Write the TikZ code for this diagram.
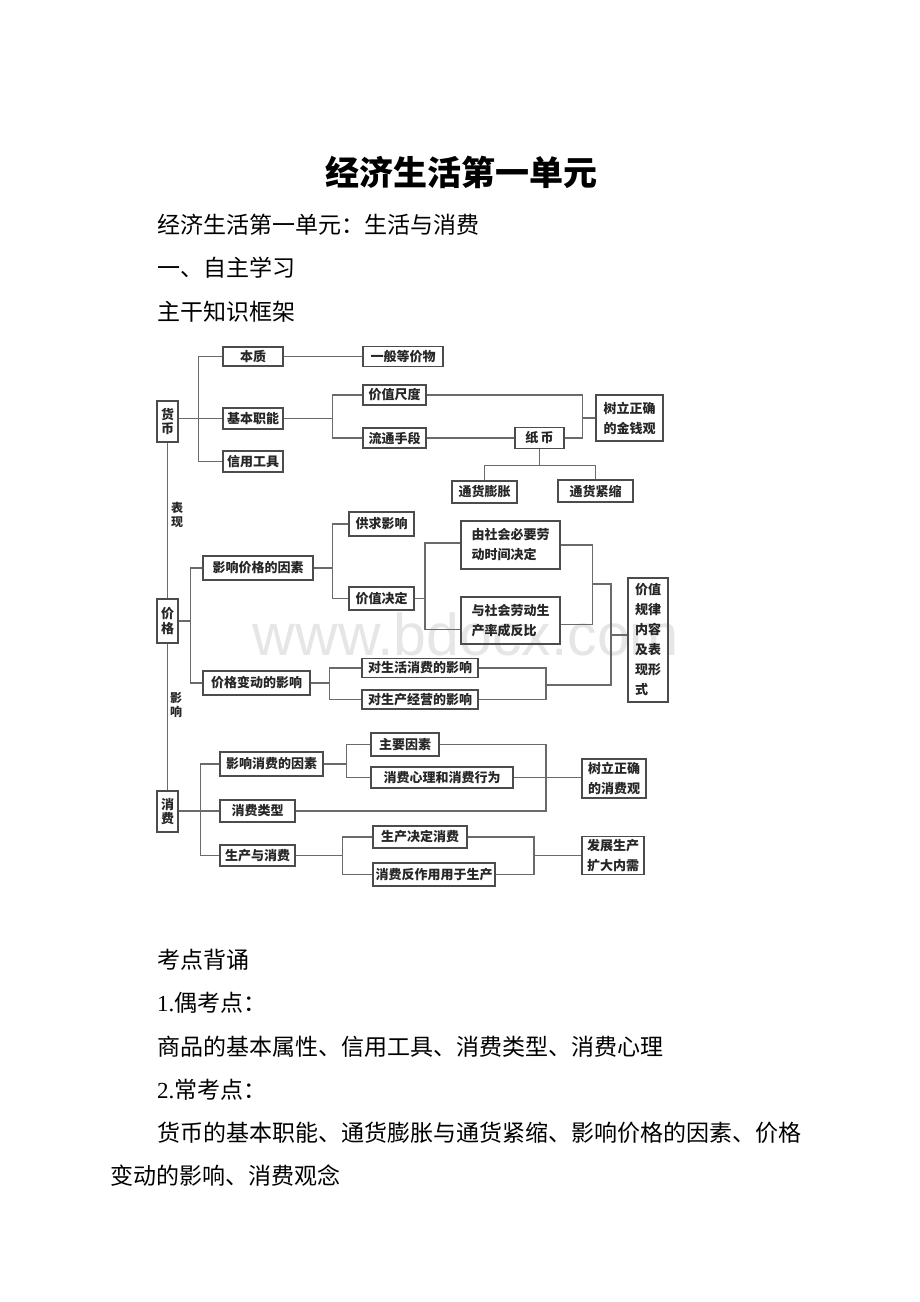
\documentclass[tikz,border=0pt]{standalone}
\usepackage{fontspec}
\setmainfont{Liberation Serif}
\newfontfamily\cjk{Noto Sans CJK SC}
\newfontfamily\wmfont{Liberation Sans}
\usetikzlibrary{calc}
\definecolor{boxgray}{HTML}{4C4C4C}
\definecolor{linegray}{HTML}{6A6A6A}
\definecolor{wmgray}{HTML}{E6E6E6}

\begin{document}
\begin{tikzpicture}[x=1pt, y=-1pt,
  box/.style={draw=boxgray, line width=1.4pt, inner sep=0pt, align=center,
    text=black!85, font=\cjk\bfseries\fontsize{13}{20}\selectfont},
  vbox/.style={box, font=\cjk\bfseries\fontsize{13}{14.5}\selectfont},
  sz/.style 2 args={minimum width=#1, minimum height=#2},
  link/.style={draw=linegray, line width=1.2pt},
  para/.style={anchor=west, inner sep=0pt, font=\cjk\fontsize{23}{28}\selectfont}]
  \useasboundingbox (0,0) rectangle (920,1302);

  % watermark
  \node[text=wmgray, font=\wmfont\fontsize{59}{59}\selectfont, inner sep=0pt] (wm) at (466,634) {www.bdocx.com};

  % page text
  \node[inner sep=0pt, font=\cjk\bfseries\fontsize{34}{40}\selectfont] (title) at (461,172) {经济生活第一单元};
  \node[para] (t1) at (157,225) {经济生活第一单元：生活与消费};
  \node[para] (t2) at (157,268) {一、自主学习};
  \node[para] (t3) at (157,312) {主干知识框架};
  \node[para] (t4) at (157,960) {考点背诵};
  \node[para] (t5) at (157,1003) {{\rmfamily 1.}偶考点：};
  \node[para] (t6) at (157,1047) {商品的基本属性、信用工具、消费类型、消费心理};
  \node[para] (t7) at (157,1090) {{\rmfamily 2.}常考点：};
  \node[para] (t8) at (157,1133) {货币的基本职能、通货膨胀与通货紧缩、影响价格的因素、价格};
  \node[para] (t9) at (110,1176) {变动的影响、消费观念};

  % money
  \node[vbox, sz={21}{41}] (hb) at (167.5,421.5) {货\\币};
  \node[box, sz={60}{19}] (bz) at (253,356.5) {本质};
  \node[box, sz={80}{20}] (ybdj) at (403,356.5) {一般等价物};
  \node[box, sz={60}{21}] (jbzn) at (253,418.5) {基本职能};
  \node[box, sz={60}{21}] (xygj) at (253,461.5) {信用工具};
  \node[box, sz={63}{20}] (jzcd) at (394.5,395) {价值尺度};
  \node[box, sz={63}{20}] (ltsd) at (394.5,438) {流通手段};
  \node[box, sz={49}{21}] (zb) at (539.5,438) {纸\,币};
  \node[box, sz={67}{46}] (jqg) at (629.5,418) {树立正确\\的金钱观};
  \node[box, sz={65}{22}] (pz) at (484.5,492) {通货膨胀};
  \node[box, sz={75}{22}] (js) at (595.5,491) {通货紧缩};

  \draw[link] (hb.east |- jbzn) -- (jbzn.west);
  \draw[link] (bz.west) -- ++(-24,0) coordinate (s1) |- (xygj.west);
  \draw[link] (bz.east) -- (ybdj.west);
  \draw[link] (jzcd.west) -- ++(-30,0) coordinate (s2) |- (ltsd.west);
  \draw[link] (jbzn.east) -- (jbzn.east -| s2);
  \draw[link] (ltsd.east) -- (zb.west);
  \draw[link] (jqg.west) -- ++(-13,0) coordinate (s3);
  \draw[link] (jzcd.east) -| (s3) |- (zb.east);
  \draw[link] (zb.south) -- ++(0,16) coordinate (s4);
  \draw[link] (pz.north) |- (s4) -| (js.north);

  % price
  \node[vbox, sz={21}{44}] (jg) at (167.5,621) {价\\格};
  \node[vbox, draw=none, font=\cjk\bfseries\fontsize{12}{14}\selectfont] (bx) at (177,515) {表\\现};
  \node[vbox, draw=none, font=\cjk\bfseries\fontsize{12}{14}\selectfont] (yx) at (176,705) {影\\响};
  \node[box, sz={110}{24}] (yxjg) at (258,568) {影响价格的因素};
  \node[box, sz={107}{24}] (jgbd) at (256.5,683) {价格变动的影响};
  \node[box, sz={65}{24}] (gqyx) at (381.5,524) {供求影响};
  \node[box, sz={65}{23}] (jzjd) at (381.5,598.5) {价值决定};
  \node[box, sz={99}{48}, align=left] (sh1) at (510.5,545) {由社会必要劳\\动时间决定};
  \node[box, sz={99}{47}, align=left] (sh2) at (510.5,620.5) {与社会劳动生\\产率成反比};
  \node[box, sz={40}{124}, align=left] (jzgl) at (648,640) {价值\\规律\\内容\\及表\\现形\\式};
  \node[box, sz={116}{19}] (dsh) at (420,668) {对生活消费的影响};
  \node[box, sz={116}{19}] (dsc) at (420,699.5) {对生产经营的影响};

  \draw[link] (hb.south) -- (jg.north);
  \draw[link] (yxjg.west) -- ++(-12,0) coordinate (s5) |- (jgbd.west);
  \draw[link] (jg.east) -- (jg.east -| s5);
  \draw[link] (gqyx.west) -- ++(-16,0) coordinate (s6) |- (jzjd.west);
  \draw[link] (yxjg.east) -- (yxjg.east -| s6);
  \coordinate (s7) at (425,543);
  \draw[link] (sh1.west |- s7) -- (s7) |- ($(sh2.west)+(0,9)$);
  \draw[link] (jzjd.east) -- (jzjd.east -| s7);
  \draw[link] (sh1.east) -- ++(32,0) coordinate (s8) |- ($(sh2.east)+(0,4)$);
  \coordinate (j1) at (611,584);
  \coordinate (j2) at (546,685);
  \coordinate (j3) at (611,635);
  \draw[link] (dsh.east) -| (j2) |- (dsc.east);
  \draw[link] (j2) -| (j1) -- (j1 -| s8);
  \draw[link] (j3) -- (j3 -| jzgl.west);
  \draw[link] (dsh.west) -- ++(-32,0) coordinate (s9) |- (dsc.west);
  \draw[link] (jgbd.east) -- (jgbd.east -| s9);

  % consumption
  \node[vbox, sz={21}{41}] (xf) at (167.5,811.5) {消\\费};
  \node[box, sz={103}{24}] (yxxf) at (271.5,764) {影响消费的因素};
  \node[box, sz={75}{22}] (xflx) at (257.5,811) {消费类型};
  \node[box, sz={75}{21}] (scyx) at (257.5,855.5) {生产与消费};
  \node[box, sz={68}{23}] (zyys) at (405,744.5) {主要因素};
  \node[box, sz={142}{21}] (xfxl) at (442,777.5) {消费心理和消费行为};
  \node[box, sz={64}{39}] (xfg) at (614,778.5) {树立正确\\的消费观};
  \node[box, sz={94}{22}] (scjd) at (420,837) {生产决定消费};
  \node[box, sz={122}{23}] (xffz) at (434,874.5) {消费反作用用于生产};
  \node[box, sz={62}{38}] (fzsc) at (613,855.5) {发展生产\\扩大内需};

  \draw[link] (jg.south) -- (xf.north);
  \draw[link] (yxxf.west) -- ++(-19,0) coordinate (s10) |- (scyx.west);
  \draw[link] (xf.east |- xflx) -- (xflx.west);
  \draw[link] (zyys.west) -- ++(-24,0) coordinate (s11) |- (xfxl.west);
  \draw[link] (yxxf.east) -- (yxxf.east -| s11);
  \coordinate (j4) at (546,811);
  \draw[link] (zyys.east) -| (j4) -- (xflx.east);
  \draw[link] (xfxl.east) -- (xfg.west |- xfxl.east);
  \draw[link] (scjd.west) -- ++(-30,0) coordinate (s12) |- (xffz.west);
  \draw[link] (scyx.east) -- (scyx.east -| s12);
  \coordinate (j5) at (534,855.5);
  \draw[link] (scjd.east) -| (j5) |- (xffz.east);
  \draw[link] (j5) -- (fzsc.west);

\end{tikzpicture}
\end{document}
